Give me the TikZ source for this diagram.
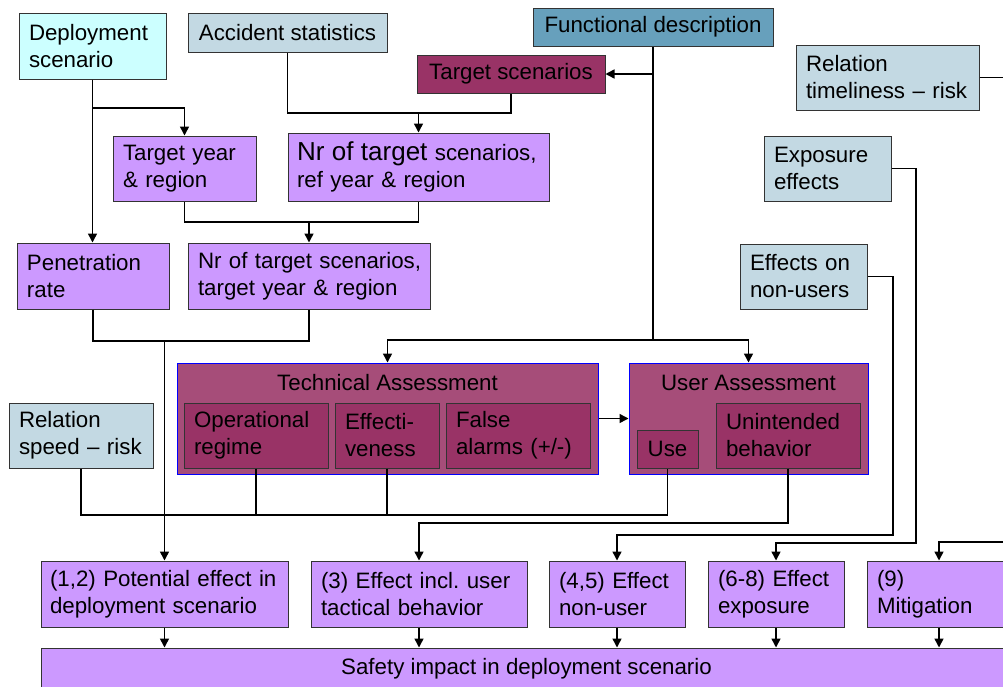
\documentclass[tikz,border=0pt]{standalone}
\usepackage{fontspec}
\setmainfont{Liberation Sans}
\usetikzlibrary{arrows.meta}
\definecolor{cyanbox}{HTML}{CCFFFF}
\definecolor{greybox}{HTML}{C3D9E3}
\definecolor{funcbox}{HTML}{67A0BC}
\definecolor{maroonbox}{HTML}{993366}
\definecolor{assess}{HTML}{A64D79}
\definecolor{lilac}{HTML}{CC99FF}
\definecolor{edgegray}{HTML}{333333}
\frenchspacing
\begin{document}
\begin{tikzpicture}[x=1pt,y=-1pt,
  every node/.style={font=\fontsize{22.3}{27}\selectfont\frenchspacing, text=black},
  box/.style={draw=edgegray, line width=1pt, inner ysep=0pt},
  lb/.style={box, align=left, inner xsep=10pt},
  cb/.style={box, align=center, inner xsep=0pt},
  group/.style={draw=blue, fill=assess, line width=1pt, inner sep=0pt},
  arr/.style={line width=1.5pt, -{Triangle[length=9pt,width=9pt]}},
  ln/.style={line width=1.5pt}]
\useasboundingbox (0,0) rectangle (1003,686);

% top inputs
\node[lb, fill=cyanbox, minimum width=147pt, minimum height=66pt, text width=127pt] (dep) at (92.5,46) {Deployment\\scenario};
\node[cb, fill=greybox, minimum width=199pt, minimum height=39pt] (acc) at (287.5,32.5) {Accident statistics};
\node[cb, fill=funcbox, minimum width=240pt, minimum height=38pt] (func) at (653,27) {Functional description};
\node[cb, fill=maroonbox, minimum width=188pt, minimum height=38pt] (tgt) at (511,74) {Target scenarios};
\node[lb, fill=greybox, minimum width=183pt, minimum height=65pt, text width=163pt] (reltime) at (887.5,77.5) {Relation\\\mbox{timeliness – risk}};
\node[lb, fill=greybox, minimum width=127pt, minimum height=65pt, text width=107pt] (expo) at (827.5,168.5) {Exposure\\effects};
\node[lb, fill=greybox, minimum width=127pt, minimum height=65pt, text width=107pt] (nonu) at (803.5,276.5) {Effects on\\non-users};

% purple intermediate
\node[lb, fill=lilac, minimum width=143pt, minimum height=65pt, text width=123pt] (tyear) at (184.5,168.5) {Target year\\\& region};
\node[lb, fill=lilac, minimum width=261pt, minimum height=68pt, text width=243pt, inner xsep=9pt] (nrref) at (418.5,167) {\mbox{{\fontsize{26}{27}\selectfont Nr of target} scenarios,}\\ref year \& region};
\node[lb, fill=lilac, minimum width=152pt, minimum height=66pt, text width=132pt] (pen) at (93,276) {Penetration\\rate};
\node[lb, fill=lilac, minimum width=242pt, minimum height=66pt, text width=222pt] (nrtgt) at (309,276) {\mbox{Nr of target scenarios,}\\\mbox{target year \& region}};

% assessments
\node[group, minimum width=421pt, minimum height=111pt] (ta) at (387.5,418.5) {};
\node (tatitle) at (387.5,383) {Technical Assessment};
\node[lb, fill=maroonbox, minimum width=144pt, minimum height=65pt, text width=124pt] (oper) at (256,435.5) {Operational\\regime};
\node[lb, fill=maroonbox, minimum width=104pt, minimum height=65pt, text width=84pt] (effect) at (387,435.5) {Effecti-\\veness};
\node[lb, fill=maroonbox, minimum width=144pt, minimum height=65pt, text width=124pt] (false) at (518,435.5) {False\\\mbox{alarms (+/-)}};
\node[group, minimum width=239pt, minimum height=111pt] (ua) at (748.5,418.5) {};
\node (uatitle) at (748.5,383) {User Assessment};
\node[cb, fill=maroonbox, minimum width=61pt, minimum height=38pt] (use) at (667.5,449) {Use};
\node[lb, fill=maroonbox, minimum width=144pt, minimum height=65pt, text width=124pt] (unint) at (788,435.5) {Unintended\\behavior};
\node[lb, fill=greybox, minimum width=144pt, minimum height=65pt, text width=124pt] (relspeed) at (81,435.5) {Relation\\\mbox{speed – risk}};

% effects
\node[lb, fill=lilac, minimum width=247pt, minimum height=66pt, text width=229pt, inner xsep=9pt] (b12) at (164.5,594) {\mbox{(1,2) Potential effect in}\\\mbox{deployment scenario}};
\node[lb, fill=lilac, minimum width=216pt, minimum height=66pt, text width=196pt] (b3) at (419,594) {\mbox{(3) Effect incl. user}\\\mbox{tactical behavior}};
\node[lb, fill=lilac, minimum width=136pt, minimum height=66pt, text width=116pt] (b45) at (617,594) {\mbox{(4,5) Effect}\\non-user};
\node[lb, fill=lilac, minimum width=136pt, minimum height=66pt, text width=116pt] (b68) at (776,594) {\mbox{(6-8) Effect}\\exposure};
\node[lb, fill=lilac, minimum width=144pt, minimum height=66pt, text width=124pt] (b9) at (939,594) {(9)\\Mitigation};
\node[cb, fill=lilac, minimum width=971pt, minimum height=42pt] (safety) at (526.5,669) {Safety impact in deployment scenario};

% connectors
\coordinate (j1) at (92.5,108);
\draw[arr] (dep.south) -- (dep.south |- pen.north);
\draw[arr] (j1) -| (tyear.north);
\coordinate (j2) at (511,113);
\coordinate (j3) at (418.5,113);
\draw[ln] (acc.south) |- (j2) -- (tgt.south);
\draw[arr] (j3) -- (nrref.north);
\coordinate (j4) at (418.5,222);
\coordinate (j5) at (309,222);
\draw[ln] (tyear.south) |- (j4) -- (nrref.south);
\draw[arr] (j5) -- (nrtgt.north);
\coordinate (j6) at (309,341);
\coordinate (j7) at (164.5,341);
\draw[ln] (pen.south) |- (j6) -- (nrtgt.south);
\draw[arr] (j7) -- (b12.north);

\coordinate (j8) at (653,340);
\draw[ln] (func.south) -- (j8);
\draw[arr] (func.south |- tgt.east) -- (tgt.east);
\draw[arr] (j8) -| (ta.north);
\draw[arr] (j8) -| (ua.north);
\draw[arr] (ta.east) -- (ua.west);

\coordinate (j9) at (667.5,515);
\draw[ln] (relspeed.south) |- (j9) -- (use.south);
\draw[ln] (oper.south) -- (oper.south |- j9);
\draw[ln] (effect.south) -- (effect.south |- j9);
\coordinate (j10) at (788,523);
\draw[arr] (unint.south) -- (j10) -| (b3.north);
\coordinate (j11) at (893,535);
\draw[arr] (nonu.east) -| (j11) -| (b45.north);
\coordinate (j12) at (916,543);
\draw[arr] (expo.east) -| (j12) -| (b68.north);
\coordinate (rt) at (1015,77.5);
\draw[ln] (reltime.east) -- (rt);
\coordinate (mt) at (1015,542);
\draw[arr] (mt) -| (b9.north);

\foreach \b in {b12,b3,b45,b68,b9}
  \draw[arr] (\b.south) -- (\b.south |- safety.north);
\end{tikzpicture}
\end{document}
